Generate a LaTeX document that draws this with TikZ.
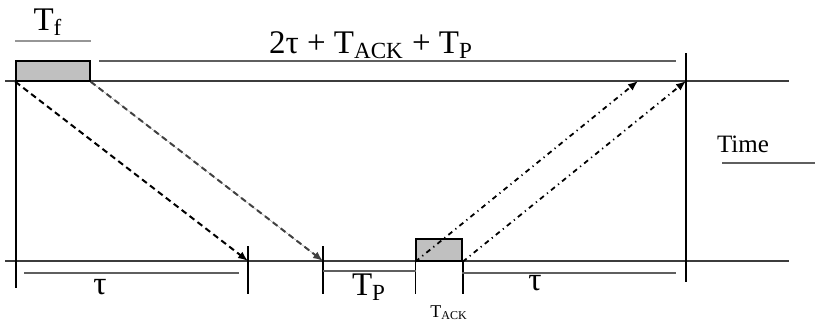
\documentclass[tikz,border=0pt]{standalone}
\usepackage{fontspec}
\setmainfont{Liberation Serif}
\usetikzlibrary{arrows.meta,positioning,calc}
\definecolor{axisline}{RGB}{60, 60, 60}
\definecolor{spangray}{RGB}{95, 95, 95}
\definecolor{lightspan}{RGB}{150, 150, 150}
\definecolor{framefill}{RGB}{192, 192, 192}

\begin{document}
\begin{tikzpicture}[x=0.5pt, y=-0.5pt,
    timeline/.style={draw=axisline, line width=0.7pt},
    tickline/.style={draw=black, line width=0.8pt},
    spanbar/.style={draw=spangray, line width=0.7pt},
    framebox/.style={draw=black, fill=framefill, line width=0.7pt, inner sep=0pt},
    sendarrow/.style={-{Latex[length=5pt,width=4pt]}, line width=1pt, dash pattern=on 3pt off 2pt},
    ackarrow/.style={-{Latex[length=5pt,width=4pt]}, line width=0.9pt, dash pattern=on 2.5pt off 2pt on 0.6pt off 2pt},
    biglbl/.style={inner sep=0pt, anchor=base, font=\fontsize{16.5}{19}\selectfont},
    smalllbl/.style={inner sep=0pt, anchor=base, font=\fontsize{12.5}{15}\selectfont}]
    \useasboundingbox (0,0) rectangle (817,329);

    % time axes of sender and receiver
    \draw[timeline] (5,81) -- (789,81);
    \draw[timeline] (5,261) -- (789,261);

    % frames
    \node[framebox, minimum width=37pt, minimum height=10pt] (dataframe) at (53,71) {};
    \node[framebox, minimum width=23pt, minimum height=11pt] (ackframe) at (439,250) {};

    % ticks
    \draw[tickline] (16,61) -- (16,288);
    \draw[tickline] (686,53) -- (686,282);
    \coordinate (rx1) at (248,261);
    \coordinate (rx2) at (323,261);
    \coordinate (ackend) at (638,81);
    \coordinate (cycleend) at (686,81);
    \draw[tickline] (248,246) -- (248,294);
    \draw[tickline] (323,246) -- (323,294);
    \draw[tickline] (ackframe.south west) -- ++(0,32);
    \draw[tickline] (ackframe.south east) -- ++(0,32);

    % spans and labels
    \draw[draw=lightspan, line width=1.2pt] (15,41) -- (91,41);
    \node[biglbl] (tflbl) at (48,30) {T\textsubscript{f}};
    \draw[spanbar] (99,61) -- (676,61);
    \node[biglbl] (cyclelbl) at (371,53) {2τ + T\textsubscript{ACK} + T\textsubscript{P}};
    \draw[spanbar] (24,273) -- (239,273);
    \node[biglbl] (taulbl1) at (100,294) {τ};
    \draw[spanbar] (323,271) -- (416,271);
    \node[biglbl] (tplbl) at (369,295) {T\textsubscript{P}};
    \draw[spanbar] (462,273) -- (676,273);
    \node[biglbl] (taulbl2) at (535,290) {τ};
    \node[inner sep=0pt, anchor=base, font=\fontsize{9}{10}\selectfont] (acklbl) at (449,317) {T\textsubscript{ACK}};
    \node[smalllbl] (timelbl) at (743,152) {Time};
    \draw[spanbar] (722,163) -- (815,163);

    % signals
    \draw[sendarrow] (dataframe.south west) -- (rx1);
    \draw[sendarrow, draw=black!75, fill=black] (dataframe.south east) -- (rx2);
    \draw[ackarrow] (ackframe.south west) -- (ackend);
    \draw[ackarrow] (ackframe.south east) -- (cycleend);
\end{tikzpicture}
\end{document}
